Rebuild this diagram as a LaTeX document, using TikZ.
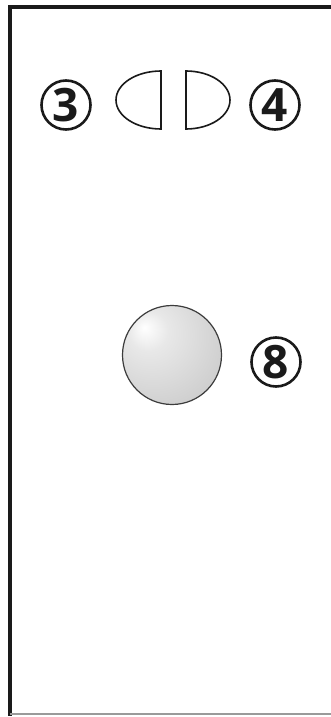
\documentclass[tikz,border=0pt]{standalone}
\usepackage{fontspec}
\setsansfont{Open Sans}
\usepackage{tikz}
\usetikzlibrary{positioning,calc,shapes.geometric}
\definecolor{cA}{HTML}{1a1a1a}
\definecolor{cB}{HTML}{9a9a9a}
\pgfdeclareradialshading{ballgray}{\pgfpoint{-14bp}{14bp}}{%
  color(0bp)=(white); color(10bp)=(gray!18); color(35bp)=(gray!38);
  color(55bp)=(gray!58); color(75bp)=(gray!68)}
\tikzset{
  numcirc/.style={circle,draw=cA,line width=2.6pt,minimum size=49pt,inner sep=0pt,
              font=\sffamily\bfseries\fontsize{46}{46}\selectfont,text=cA},
  halflens/.style={draw=cA,line width=1.6pt,fill=white},
  frameline/.style={draw=cA,line width=3.2pt},
}
\begin{document}
\begin{tikzpicture}[x=1pt,y=-1pt]
  \useasboundingbox (0,0) rectangle (330,717);
  % outer frame, open at the right
  \draw[frameline] (332,7) -- (10,7) -- (10,716);
  \draw[cB,line width=1.6pt] (10,714) -- (332,714);
  % the two half lenses
  \coordinate (lensL) at (161,100);
  \coordinate (lensR) at (186,100);
  \draw[halflens] ($(lensL)+(0,-29)$) arc[start angle=-90,end angle=-270,x radius=45,y radius=29] -- cycle;
  \draw[halflens] ($(lensR)+(0,-29)$) arc[start angle=-90,end angle=90,x radius=44,y radius=29] -- cycle;
  \node[numcirc] (n3) at (66,105) {3};
  \node[numcirc] (n4) at (275,105) {4};
  % the ball
  \node[circle,minimum size=99pt,inner sep=0pt,draw=cA!85,line width=1.2pt,
        shading=ballgray] (ball) at (172,355) {};
  \node[numcirc] (n8) at (276,362) {8};
\end{tikzpicture}
\end{document}
